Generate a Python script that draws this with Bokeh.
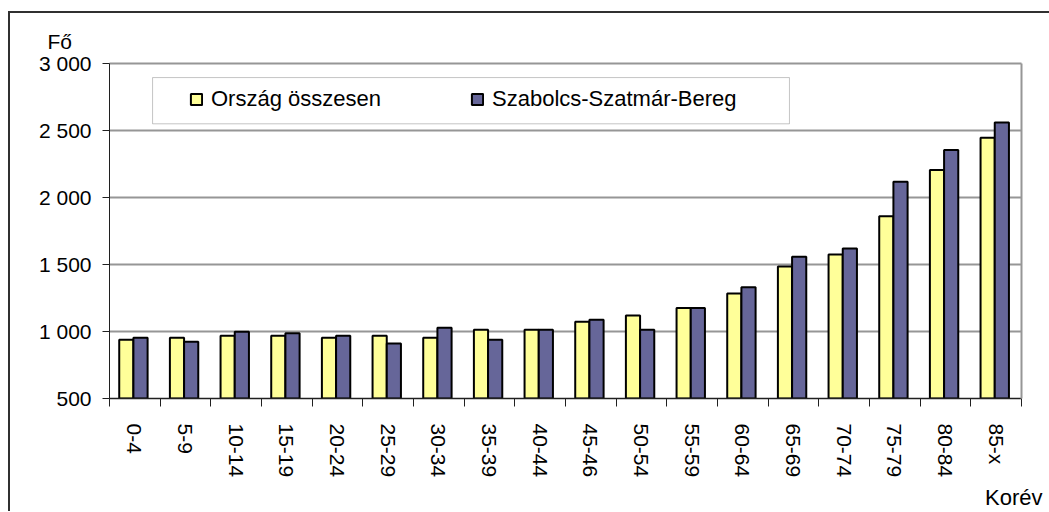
from bokeh.plotting import figure
from bokeh.models import (FactorRange, Range1d, LinearAxis, CategoricalAxis, FixedTicker,
                          Title, BoxAnnotation, ColumnDataSource)
from bokeh.transform import dodge
from bokeh.embed import file_html
from bokeh.resources import INLINE

categories = ["0-4", "5-9", "10-14", "15-19", "20-24", "25-29", "30-34", "35-39", "40-44",
              "45-46", "50-54", "55-59", "60-64", "65-69", "70-74", "75-79", "80-84", "85-x"]
orszag = [938, 953, 968, 968, 953, 968, 953, 1013, 1013, 1073, 1120, 1175, 1283, 1485, 1575, 1860, 2205, 2445]
szabolcs = [953, 923, 998, 987, 968, 910, 1028, 938, 1013, 1088, 1013, 1175, 1330, 1558, 1620, 2118, 2355, 2560]
series_names = ["Ország összesen", "Szabolcs-Szatmár-Bereg"]
y_ticks = [500, 1000, 1500, 2000, 2500, 3000]
y_tick_labels = ["500", "1 000", "1 500", "2 000", "2 500", "3 000"]
y_title = "Fő"
x_title = "Korév"

FONT = "Liberation Sans"
FS = "21px"
DARK = "#202020"
GRID = "#969696"

p = figure(x_range=FactorRange(factors=categories), y_range=Range1d(500, 3000),
           frame_width=912, frame_height=335,
           min_border_left=99, min_border_top=50, min_border_right=28, min_border_bottom=100,
           x_axis_location=None, y_axis_location="left",
           output_backend="svg", toolbar_location=None)
p.styles = {"border-left": "2px solid #303030", "border-top": "2px solid #303030",
            "margin-top": "11px", "margin-left": "8px"}
p.outline_line_color = None
p.background_fill_color = "white"
p.border_fill_color = "white"
p.xgrid.visible = False
p.ygrid.grid_line_color = GRID
p.ygrid.grid_line_width = 2
p.ygrid.ticker = FixedTicker(ticks=y_ticks)

# y axis
ya = p.yaxis[0]
ya.ticker = FixedTicker(ticks=y_ticks)
ya.major_label_overrides = {t: l for t, l in zip(y_ticks, y_tick_labels)}
ya.major_label_text_font = FONT
ya.major_label_text_font_size = FS
ya.major_label_text_color = "black"
ya.major_tick_out = 7
ya.major_tick_in = 0
ya.minor_tick_out = 0
ya.minor_tick_in = 0
ya.major_label_standoff = 11
ya.axis_line_color = DARK
ya.major_tick_line_color = DARK

# bottom tick axis (boundaries between categories)
bounds = list(range(len(categories) + 1))
tick_axis = LinearAxis(ticker=FixedTicker(ticks=bounds),
                       major_label_overrides={b: "" for b in bounds},
                       major_label_standoff=0,
                       major_tick_out=8, major_tick_in=0, minor_tick_out=0, minor_tick_in=0,
                       axis_line_color=DARK, axis_line_width=1.5, major_tick_line_color=DARK)
p.add_layout(tick_axis, "below")

# bottom label axis
lab_axis = CategoricalAxis(major_tick_out=0, major_tick_in=0, axis_line_color=None,
                           major_tick_line_color=None,
                           major_label_orientation="vertical",
                           major_label_text_font=FONT, major_label_text_font_size=FS,
                           major_label_text_color="black", major_label_standoff=17)
p.add_layout(lab_axis, "below")

# right and top plot-area borders
p.add_layout(LinearAxis(ticker=FixedTicker(ticks=[]),
                        major_tick_out=0, major_tick_in=0, minor_tick_out=0, minor_tick_in=0,
                        major_label_standoff=0,
                        axis_line_color=GRID, axis_line_width=2), "right")
p.add_layout(LinearAxis(ticker=FixedTicker(ticks=[]),
                        major_tick_out=0, major_tick_in=0, minor_tick_out=0, minor_tick_in=0,
                        major_label_standoff=0,
                        axis_line_color=GRID, axis_line_width=2), "above")

# spacer between the plot top and the y title
p.add_layout(Title(text=" ", standoff=0, text_font=FONT, text_font_size="8px",
                   text_font_style="normal"), "above")

# axis titles
p.add_layout(Title(text=y_title, align="left", offset=-62, standoff=0,
                   text_font=FONT, text_font_size=FS, text_font_style="normal",
                   text_color="black"), "above")
p.add_layout(Title(text=x_title, align="right", offset=-21, standoff=4,
                   text_font=FONT, text_font_size="22px", text_font_style="normal",
                   text_color="black"), "below")

# legend frame
box = BoxAnnotation(left=0.85, right=13.42, top=2895, bottom=2550,
                    fill_color="white", fill_alpha=1, line_color="#404040", line_width=1)
p.add_layout(box)

source = ColumnDataSource(dict(cat=categories, orszag=orszag, szabolcs=szabolcs))
p.vbar(x=dodge("cat", -0.168, range=p.x_range), top="orszag", bottom=500, width=0.28,
       source=source, fill_color="#FFFF99", line_color="black", line_width=2,
       legend_label=series_names[0])
p.vbar(x=dodge("cat", 0.112, range=p.x_range), top="szabolcs", bottom=500, width=0.28,
       source=source, fill_color="#666699", line_color="black", line_width=2,
       legend_label=series_names[1])

lg = p.legend[0]
lg.location = (70, 276)
lg.orientation = "horizontal"
lg.border_line_alpha = 0
lg.background_fill_alpha = 0
lg.label_text_font = FONT
lg.label_text_font_size = "22px"
lg.label_text_color = "black"
lg.glyph_width = 14
lg.glyph_height = 14
lg.label_standoff = 8
lg.label_width = 259
lg.spacing = 0
lg.padding = 10
lg.margin = 0

open("out.html", "w").write(file_html(p, INLINE))
